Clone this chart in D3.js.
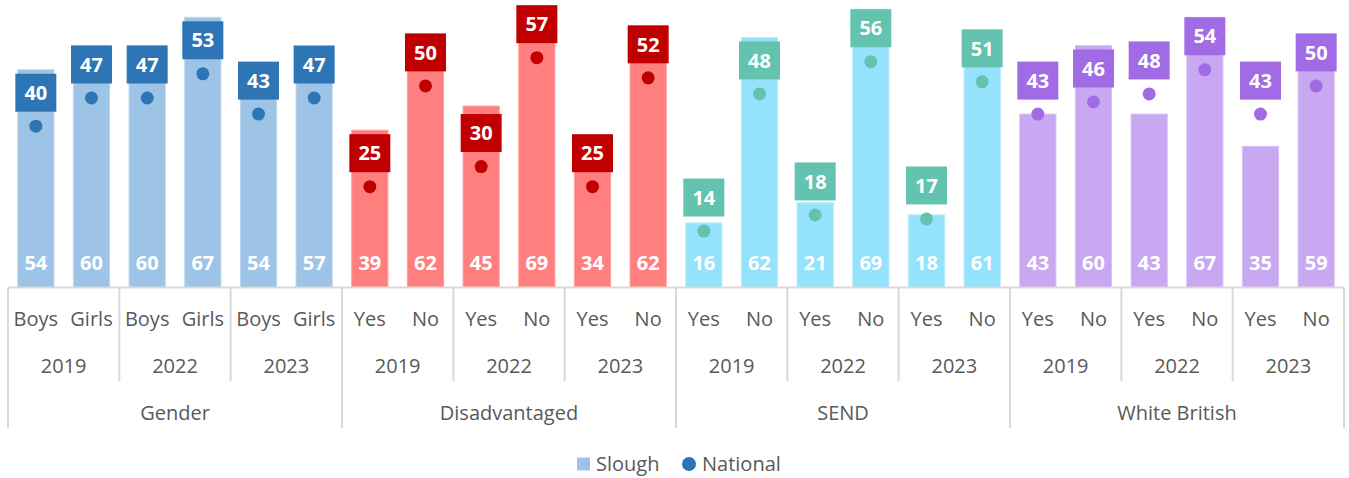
<!DOCTYPE html>
<html>
<head>
<meta charset="utf-8">
<script src="https://cdn.jsdelivr.net/npm/d3@7"></script>
<style>
  body { margin: 0; background: #fff; }
  svg { font-family: "Open Sans", "Noto Sans", sans-serif; }
</style>
</head>
<body>
<svg id="chart"></svg>
<script>
// Chart data
const groups = ['Gender', 'Disadvantaged', 'SEND', 'White British'];
const years = ['2019', '2022', '2023'];
const subLabels = {
  'Gender': ['Boys', 'Girls'],
  'Disadvantaged': ['Yes', 'No'],
  'SEND': ['Yes', 'No'],
  'White British': ['Yes', 'No']
};
const slough = [54, 60, 60, 67, 54, 57, 39, 62, 45, 69, 34, 62, 16, 62, 21, 69, 18, 61, 43, 60, 43, 67, 35, 59];
const national = [40, 47, 47, 53, 43, 47, 25, 50, 30, 57, 25, 52, 14, 48, 18, 56, 17, 51, 43, 46, 48, 54, 43, 50];

const palette = {
  'Gender': {bar: '#9DC3E6', dark: '#2E75B6', edge: '#BDD7EE'},
  'Disadvantaged': {bar: '#FF7F7F', dark: '#C00000', edge: '#FF9F9F'},
  'SEND': {bar: '#95E2FC', dark: '#64C3AF', edge: '#B5EBFD'},
  'White British': {bar: '#C8A8F0', dark: '#A06BE4', edge: '#D8C0F4'}
};

// build rows from the arrays
const rows = [];
groups.forEach(g => {
  years.forEach(y => {
    subLabels[g].forEach(s => {
      const i = rows.length;
      rows.push({group: g, year: y, sub: s, key: g + '|' + y + '|' + s,
                 slough: slough[i], national: national[i]});
    });
  });
});

const width = 1349, height = 478;
const left = 8, right = 1344, base = 287.5;

const svg = d3.select('#chart')
    .attr('width', width)
    .attr('height', height);

const x = d3.scaleBand()
    .domain(rows.map(d => d.key))
    .range([left, right])
    .paddingInner(0.35)
    .paddingOuter(0.175);

const y = d3.scaleLinear()
    .domain([0, 71.3])
    .range([base, 0]);

const step = x.step();
const slotStart = i => left + i * step;

// bars
svg.append('g').selectAll('rect')
    .data(rows)
  .join('rect')
    .attr('x', d => x(d.key))
    .attr('y', d => y(d.slough))
    .attr('width', x.bandwidth())
    .attr('height', d => base - y(d.slough))
    .attr('fill', d => palette[d.group].bar)
    .attr('stroke', d => palette[d.group].edge)
    .attr('stroke-width', 1);

// slough value labels near bottom
svg.append('g').selectAll('text')
    .data(rows)
  .join('text')
    .attr('x', d => x(d.key) + x.bandwidth() / 2)
    .attr('y', 263)
    .attr('dy', '0.36em')
    .attr('text-anchor', 'middle')
    .attr('fill', '#fff')
    .attr('font-size', 20)
    .attr('font-weight', 700)
    .text(d => d.slough);

// national dots
svg.append('g').selectAll('circle')
    .data(rows)
  .join('circle')
    .attr('cx', d => x(d.key) + x.bandwidth() / 2)
    .attr('cy', d => y(d.national))
    .attr('r', 6.5)
    .attr('fill', d => palette[d.group].dark);

// national label boxes
const boxW = 41, boxH = 38, boxOff = 33.5;
const boxes = svg.append('g').selectAll('g')
    .data(rows)
  .join('g')
    .attr('transform', d => `translate(${x(d.key) + x.bandwidth() / 2},${y(d.national) - boxOff})`);

boxes.append('rect')
    .attr('x', -boxW / 2)
    .attr('y', -boxH / 2)
    .attr('width', boxW)
    .attr('height', boxH)
    .attr('fill', d => palette[d.group].dark);

boxes.append('text')
    .attr('dy', '0.36em')
    .attr('text-anchor', 'middle')
    .attr('fill', '#fff')
    .attr('font-size', 20)
    .attr('font-weight', 700)
    .text(d => d.national);

// multi-level category axis
const axis = svg.append('g');
const lineCol = '#D9D9D9';

axis.append('line')
    .attr('x1', left).attr('x2', right)
    .attr('y1', base).attr('y2', base)
    .attr('stroke', lineCol).attr('stroke-width', 2);

for (let i = 0; i <= rows.length; i += 2) {
  const isGroupEdge = i % 6 === 0;
  axis.append('line')
      .attr('x1', slotStart(i)).attr('x2', slotStart(i))
      .attr('y1', base).attr('y2', isGroupEdge ? 428 : 381)
      .attr('stroke', lineCol).attr('stroke-width', 2);
}

const textCol = '#595959';

axis.selectAll('.sub')
    .data(rows)
  .join('text')
    .attr('class', 'sub')
    .attr('x', d => x(d.key) + x.bandwidth() / 2)
    .attr('y', 319)
    .attr('dy', '0.36em')
    .attr('text-anchor', 'middle')
    .attr('fill', textCol)
    .attr('font-size', 20)
    .text(d => d.sub);

const yearCells = [];
groups.forEach((g, gi) => years.forEach((yr, yi) => yearCells.push({yr, idx: gi * 6 + yi * 2})));

axis.selectAll('.year')
    .data(yearCells)
  .join('text')
    .attr('class', 'year')
    .attr('x', d => slotStart(d.idx) + step)
    .attr('y', 366)
    .attr('dy', '0.36em')
    .attr('text-anchor', 'middle')
    .attr('fill', textCol)
    .attr('font-size', 20)
    .text(d => d.yr);

axis.selectAll('.group')
    .data(groups)
  .join('text')
    .attr('class', 'group')
    .attr('x', (d, i) => slotStart(i * 6) + step * 3)
    .attr('y', 413)
    .attr('dy', '0.36em')
    .attr('text-anchor', 'middle')
    .attr('fill', textCol)
    .attr('font-size', 20)
    .text(d => d);

// legend
const legend = svg.append('g').attr('transform', 'translate(577,464)');
legend.append('rect')
    .attr('x', 0).attr('y', -6.5)
    .attr('width', 13).attr('height', 13)
    .attr('fill', palette['Gender'].bar);
legend.append('text')
    .attr('x', 19).attr('dy', '0.36em')
    .attr('fill', textCol).attr('font-size', 20)
    .text('Slough');
legend.append('circle')
    .attr('cx', 112).attr('cy', 0).attr('r', 7)
    .attr('fill', palette['Gender'].dark);
legend.append('text')
    .attr('x', 125).attr('dy', '0.36em')
    .attr('fill', textCol).attr('font-size', 20)
    .text('National');
</script>
</body>
</html>
